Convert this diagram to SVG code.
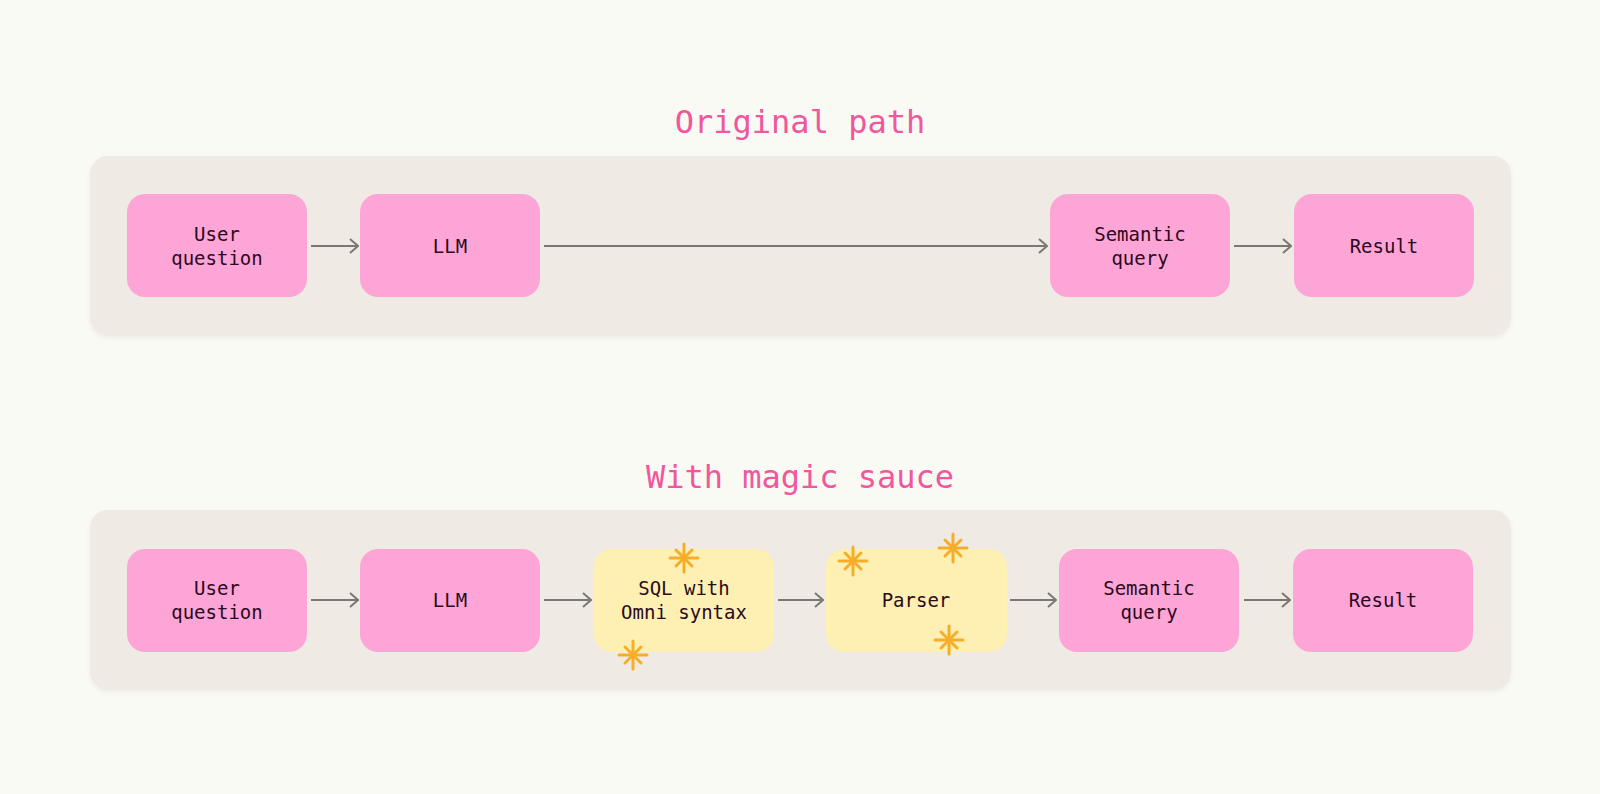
<svg xmlns="http://www.w3.org/2000/svg" width="1600" height="794" viewBox="0 0 1600 794">
<defs>
<style>
.panel{fill:#efeae4;}
.pink{fill:#fea5d8;}
.yellow{fill:#fdf0b2;}
.lbl{font-family:"DejaVu Sans Mono","Liberation Mono",monospace;font-size:19px;fill:#2b0a1c;text-anchor:middle;}
.title{font-family:"DejaVu Sans Mono","Liberation Mono",monospace;font-size:32px;fill:#f0579c;text-anchor:middle;}
.conn{stroke:#7b7772;stroke-width:2;fill:none;marker-end:url(#arr);}
.spark{stroke:#f8ad2a;stroke-width:3;stroke-linecap:round;fill:none;}
</style>
<marker id="arr" viewBox="0 0 10 16" refX="9" refY="8" markerWidth="10" markerHeight="16" markerUnits="userSpaceOnUse" orient="auto">
<path d="M1,1 L9,8 L1,15" fill="none" stroke="#7b7772" stroke-width="2"/>
</marker>
<filter id="sh" x="-5%" y="-10%" width="110%" height="120%">
<feDropShadow dx="0" dy="2" stdDeviation="2" flood-color="#000" flood-opacity="0.05"/>
</filter>
<g id="sp">
<line x1="0" y1="-14" x2="0" y2="14"/>
<line x1="-14" y1="0" x2="14" y2="0"/>
<line x1="-8" y1="-8" x2="8" y2="8"/>
<line x1="-8" y1="8" x2="8" y2="-8"/>
</g>
</defs>
<rect width="1600" height="794" fill="#fafaf5"/>

<text class="title" x="800" y="133">Original path</text>
<text class="title" x="800" y="488">With magic sauce</text>

<rect class="panel" x="90" y="156" width="1421" height="180" rx="18" filter="url(#sh)"/>
<rect class="panel" x="90" y="510" width="1421" height="180" rx="18" filter="url(#sh)"/>

<g id="connectors">
<line class="conn" x1="311" y1="246" x2="358" y2="246"/>
<line class="conn" x1="544" y1="246" x2="1047" y2="246"/>
<line class="conn" x1="1234" y1="246" x2="1291" y2="246"/>
<line class="conn" x1="311" y1="600" x2="358" y2="600"/>
<line class="conn" x1="544" y1="600" x2="591" y2="600"/>
<line class="conn" x1="778" y1="600" x2="823" y2="600"/>
<line class="conn" x1="1010" y1="600" x2="1056" y2="600"/>
<line class="conn" x1="1244" y1="600" x2="1290" y2="600"/>
</g>

<g id="a-user">
<rect class="pink" x="127" y="194" width="180" height="103" rx="18"/>
<text class="lbl" x="217" y="241">User</text>
<text class="lbl" x="217" y="265">question</text>
</g>
<g id="a-llm">
<rect class="pink" x="360" y="194" width="180" height="103" rx="18"/>
<text class="lbl" x="450" y="253">LLM</text>
</g>
<g id="a-semantic">
<rect class="pink" x="1050" y="194" width="180" height="103" rx="18"/>
<text class="lbl" x="1140" y="241">Semantic</text>
<text class="lbl" x="1140" y="265">query</text>
</g>
<g id="a-result">
<rect class="pink" x="1294" y="194" width="180" height="103" rx="18"/>
<text class="lbl" x="1384" y="253">Result</text>
</g>

<g id="b-user">
<rect class="pink" x="127" y="549" width="180" height="103" rx="18"/>
<text class="lbl" x="217" y="595">User</text>
<text class="lbl" x="217" y="619">question</text>
</g>
<g id="b-llm">
<rect class="pink" x="360" y="549" width="180" height="103" rx="18"/>
<text class="lbl" x="450" y="607">LLM</text>
</g>
<g id="b-sql">
<rect class="yellow" x="594" y="549" width="180" height="103" rx="18"/>
<text class="lbl" x="684" y="595">SQL with</text>
<text class="lbl" x="684" y="619">Omni syntax</text>
<use href="#sp" class="spark" x="684" y="558"/>
<use href="#sp" class="spark" x="633" y="655"/>
</g>
<g id="b-parser">
<rect class="yellow" x="826" y="549" width="181" height="103" rx="18"/>
<text class="lbl" x="916" y="607">Parser</text>
<use href="#sp" class="spark" x="853" y="561"/>
<use href="#sp" class="spark" x="953" y="548"/>
<use href="#sp" class="spark" x="949" y="640"/>
</g>
<g id="b-semantic">
<rect class="pink" x="1059" y="549" width="180" height="103" rx="18"/>
<text class="lbl" x="1149" y="595">Semantic</text>
<text class="lbl" x="1149" y="619">query</text>
</g>
<g id="b-result">
<rect class="pink" x="1293" y="549" width="180" height="103" rx="18"/>
<text class="lbl" x="1383" y="607">Result</text>
</g>
</svg>
